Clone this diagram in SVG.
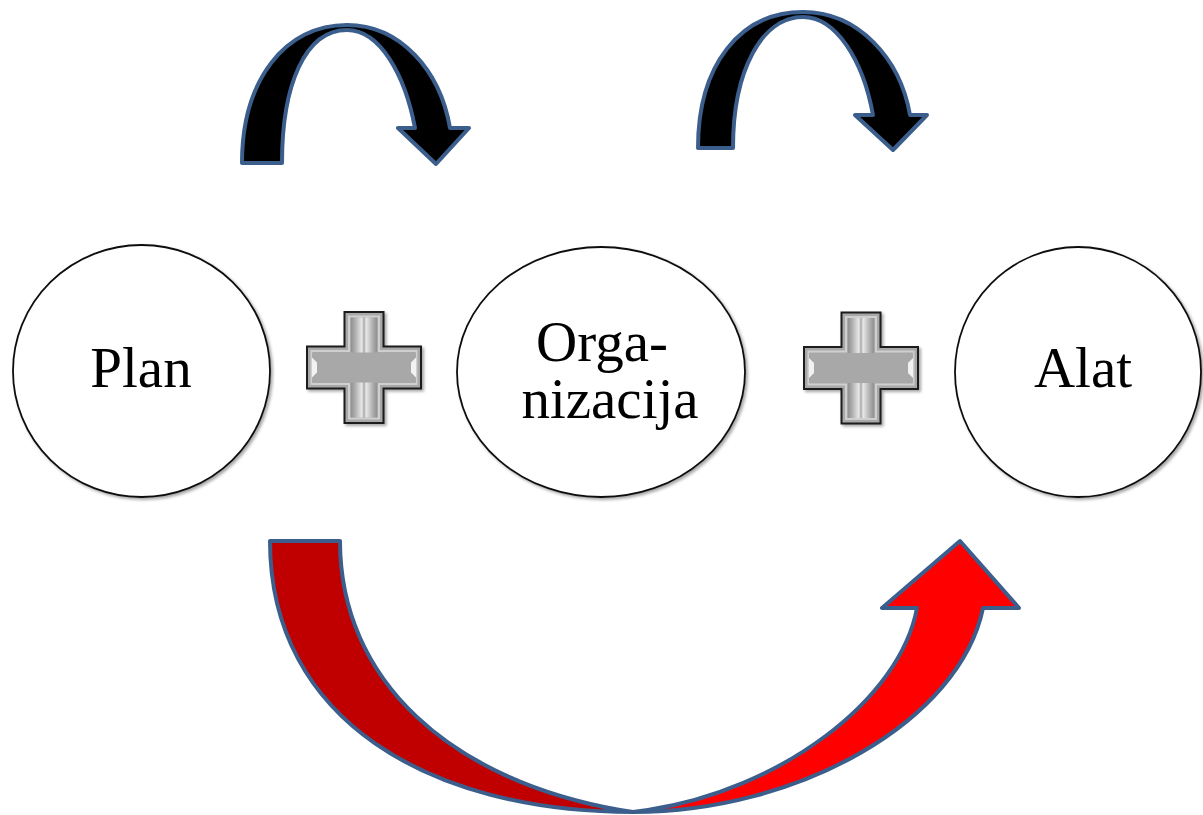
<svg xmlns="http://www.w3.org/2000/svg" width="1203" height="815" viewBox="0 0 1203 815">
  <defs>
    <filter id="soft" x="-10%" y="-10%" width="125%" height="125%">
      <feDropShadow dx="2" dy="2" stdDeviation="1.5" flood-color="#000" flood-opacity="0.35"/>
    </filter>
    <linearGradient id="armV" x1="0" y1="0" x2="1" y2="0">
      <stop offset="0" stop-color="#8c8c8c"/>
      <stop offset="0.18" stop-color="#b4b4b4"/>
      <stop offset="0.42" stop-color="#f4f4f4"/>
      <stop offset="0.5" stop-color="#a9a9a9"/>
      <stop offset="0.58" stop-color="#f4f4f4"/>
      <stop offset="0.82" stop-color="#b4b4b4"/>
      <stop offset="1" stop-color="#8c8c8c"/>
    </linearGradient>
    <g id="cross">
      <path d="M-19.5,-55.5 H19.5 V-21 H57 V21 H19.5 V55.5 H-19.5 V21 H-57 V-21 H-19.5 Z" fill="#a8a8a8" stroke="#1a1a1a" stroke-width="2" filter="url(#soft)"/>
      <path d="M-15,-51 H15 V-16.5 H52.5 V16.5 H15 V51 H-15 V16.5 H-52.5 V-16.5 H-15 Z" fill="none" stroke="#cfcfcf" stroke-width="2"/>
      <rect x="-13" y="-50" width="26" height="100" fill="url(#armV)" opacity="0.85"/>
      <rect x="-52" y="-15" width="104" height="30" fill="#a8a8a8"/>
      <path d="M-52,-10 L-47,-5 V5 L-52,10 Z" fill="#f2f2f2"/>
      <path d="M52,-10 L47,-5 V5 L52,10 Z" fill="#f2f2f2"/>
    </g>
  </defs>
  <style>
    .node { fill: #ffffff; stroke: #111111; stroke-width: 1.8; }
    .label { font-family: "Liberation Serif", "Times New Roman", serif; font-size: 57px; fill: #000000; text-anchor: middle; }
    .hop { fill: #000000; stroke: #3b5e8c; stroke-width: 4; stroke-linejoin: round; }
    .sweep { stroke: #3b5e8c; stroke-width: 4; stroke-linejoin: round; }
  </style>
  <rect width="1203" height="815" fill="#ffffff"/>

  <g id="connectors">
    <!-- curved arrow Plan -> Organizacija -->
    <path class="hop" d="M242,163 C242,80 285,25 347,25 C400,25 440,70 450,128 L469,128 L436,164 L398,128 L415,128 C405,75 380,30 347,30 C305,30 282,85 282,163 Z"/>
    <!-- curved arrow Organizacija -> Alat -->
    <path class="hop" d="M698,148 C698,65 740,12 803,12 C858,12 900,58 910,115 L927,115 L893,150 L855,115 L873,115 C863,60 836,17 803,17 C762,17 733,70 733,148 Z"/>
    <!-- lower arrow Plan -> Alat: rising half -->
    <path class="sweep" fill="#ff0000" d="M633,812 C800,812 960,720 983,608 L1019,608 L960,541 L882,608 L917,608 C900,700 780,790 648,810 Z"/>
    <!-- lower arrow Plan -> Alat: shaded tail -->
    <path class="sweep" fill="#c00000" d="M270,541 L340,541 C340,680 450,780 620,810 L633,812 C430,812 270,720 270,541 Z"/>
  </g>

  <g id="node-plan">
    <ellipse class="node" cx="141.5" cy="371" rx="128.5" ry="126" filter="url(#soft)"/>
    <text class="label" x="141" y="387">Plan</text>
  </g>

  <g id="plus-1">
    <use href="#cross" x="364" y="367.5"/>
  </g>

  <g id="node-organizacija">
    <ellipse class="node" cx="601" cy="372" rx="144" ry="125" filter="url(#soft)"/>
    <text class="label" x="602" y="361">Orga-</text>
    <text class="label" x="610" y="418">nizacija</text>
  </g>

  <g id="plus-2">
    <use href="#cross" x="861" y="368"/>
  </g>

  <g id="node-alat">
    <ellipse class="node" cx="1078" cy="372" rx="123" ry="125" filter="url(#soft)"/>
    <text class="label" x="1083" y="387">Alat</text>
  </g>
</svg>
